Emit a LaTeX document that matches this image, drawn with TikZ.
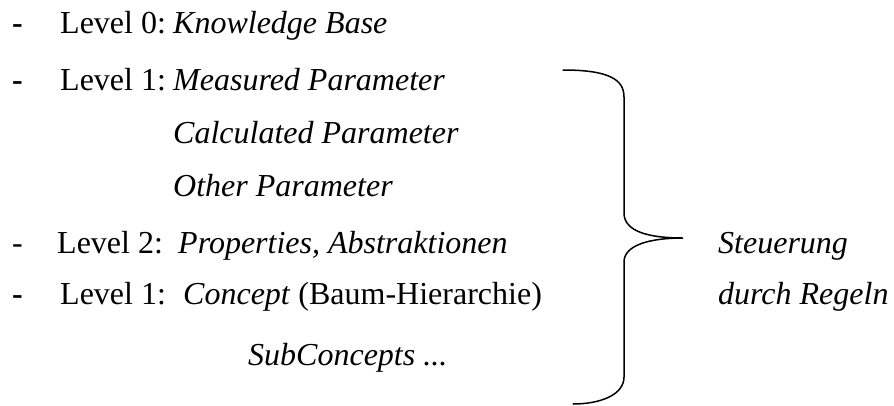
\documentclass[tikz,border=0pt]{standalone}
\usepackage{fontspec}
\setmainfont{Liberation Serif}

\begin{document}
\begin{tikzpicture}[x=1pt, y=-1pt,
  txt/.style={anchor=base west, inner sep=0pt, font=\fontsize{32}{38}\selectfont},
  it/.style={txt, font=\fontsize{32}{38}\selectfont\itshape},
  brace/.style={line width=1.5pt, line cap=round}]
\useasboundingbox (0,0) rectangle (894,405);
% level list
\node[txt] (d0) at (12,33) {\textbf{-}};
\node[txt] (l0) at (60,33) {Level 0:};
\node[it] (kb) at (173,33) {Knowledge Base};
\node[txt] (d1) at (12,90) {\textbf{-}};
\node[txt] (l1) at (60,90) {Level 1:};
\node[it] (mp) at (173,90) {Measured Parameter};
\node[it] (cp) at (173,143) {Calculated Parameter};
\node[it] (op) at (173,196) {Other Parameter};
\node[txt] (d2) at (12,253) {-};
\node[txt] (l2) at (57,253) {Level 2:};
\node[it] (pa) at (178,253) {Properties, Abstraktionen};
\node[txt] (d3) at (12,304) {\textbf{-}};
\node[txt] (l3) at (60,304) {Level 1:};
\node[txt] (co) at (183,304) {\textit{Concept} (Baum-Hierarchie)};
\node[it] (sc) at (248,365) {SubConcepts ...};
% brace and its label
\draw[brace] (563,70) .. controls (610,70) and (624,80) .. (624,97) -- (624,213)
  .. controls (624,232) and (650,238) .. (683,238)
  .. controls (650,238) and (624,245) .. (624,262) -- (624,377)
  .. controls (624,395) and (600,404) .. (573,404);
\node[it] (st) at (718,253) {Steuerung};
\node[it] (dr) at (718,304) {durch Regeln};
\end{tikzpicture}
\end{document}
